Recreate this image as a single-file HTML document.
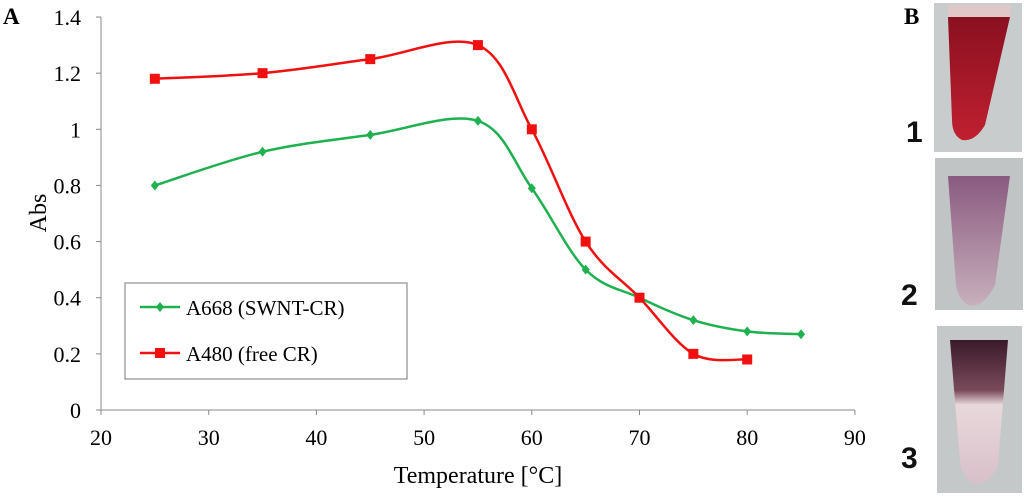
<!DOCTYPE html>
<html><head><meta charset="utf-8"><style>
body{margin:0;width:1024px;height:496px;background:#fff;overflow:hidden;font-family:"Liberation Serif",serif}
</style></head><body>
<svg width="1024" height="496">
<defs>
<linearGradient id="g1" x1="0" y1="0" x2="0" y2="1"><stop offset="0" stop-color="#8a1020"/><stop offset="1" stop-color="#c02030"/></linearGradient>
<linearGradient id="g2" x1="0" y1="0" x2="0" y2="1"><stop offset="0" stop-color="#8a5a80"/><stop offset="1" stop-color="#c8b0bc"/></linearGradient>
<linearGradient id="g3" x1="0" y1="0" x2="0" y2="1"><stop offset="0" stop-color="#3a1a2a"/><stop offset="0.35" stop-color="#7a4a5a"/><stop offset="0.45" stop-color="#e8d8dc"/><stop offset="1" stop-color="#d8c0c8"/></linearGradient>
</defs>
<text x="3" y="24" font-size="23" font-weight="bold">A</text>
<g id="chart"></g>
<text x="904" y="24" font-size="23" font-weight="bold">B</text>
<g>
<rect x="934" y="3" width="88" height="149" fill="#c8cccc"/>
<rect x="948" y="5" width="62" height="12" fill="#e0c8c8"/>
<path d="M948,17 L1010,17 L985,125 Q975,142 962,140 Q952,135 952,120 Z" fill="url(#g1)"/>
</g>
<g>
<rect x="935" y="158" width="88" height="152" fill="#c0c4c4"/>
<path d="M948,176 L1010,176 L995,285 Q985,306 970,306 Q958,300 956,285 Z" fill="url(#g2)"/>
</g>
<g>
<rect x="937" y="326" width="85" height="167" fill="#c4c8c8"/>
<path d="M950,340 L1008,340 L998,465 Q990,484 975,484 Q962,478 960,462 Z" fill="url(#g3)"/>
</g>
<g font-family="'Liberation Sans',sans-serif" font-weight="bold" font-size="30" fill="#111">
<text x="906" y="142">1</text>
<text x="901" y="305">2</text>
<text x="901" y="468">3</text>
</g>
</svg>
<script>
const xTicks=[20,30,40,50,60,70,80,90];
const yTicks=[0,0.2,0.4,0.6,0.8,1,1.2,1.4];
const greenX=[25,35,45,55,60,65,70,75,80,85];
const greenY=[0.8,0.92,0.98,1.03,0.79,0.5,0.4,0.32,0.28,0.27];
const redX=[25,35,45,55,60,65,70,75,80];
const redY=[1.18,1.2,1.25,1.3,1.0,0.6,0.4,0.2,0.18];
const NS="http://www.w3.org/2000/svg";
const g=document.getElementById('chart');
const X=v=>101+(v-20)*10.77, Y=v=>410-v*280.7;
function el(t,a,p){const e=document.createElementNS(NS,t);for(const k in a)e.setAttribute(k,a[k]);(p||g).appendChild(e);return e;}
const ax=el('line',{x1:101,y1:17,x2:101,y2:410,stroke:'#888','stroke-width':1});


const bx=el('line',{x1:101,y1:410,x2:855,y2:410,stroke:'#888','stroke-width':1});


yTicks.forEach(v=>{el('line',{x1:96,x2:101,y1:Y(v),y2:Y(v),stroke:'#888'});
const t=el('text',{x:81,y:Y(v)+8,'font-size':22,'text-anchor':'end'});t.textContent=String(v);

});
xTicks.forEach(v=>{el('line',{x1:X(v),x2:X(v),y1:410,y2:415,stroke:'#888'});
const t=el('text',{x:X(v),y:445,'font-size':22,'text-anchor':'middle'});t.textContent=String(v);

});
const xt=el('text',{x:478,y:483,'font-size':24,'text-anchor':'middle'});xt.textContent='Temperature [°C]';


const yt=el('text',{x:0,y:0,'font-size':24,'text-anchor':'middle',transform:'translate(46,213) rotate(-90)'});yt.textContent='Abs';


function smooth(xs,ys){const p=xs.map((x,i)=>[X(x),Y(ys[i])]);let d='M'+p[0];
for(let i=0;i<p.length-1;i++){const p0=p[i-1]||p[i],p1=p[i],p2=p[i+1],p3=p[i+2]||p2;
d+=` C${p1[0]+(p2[0]-p0[0])/6},${p1[1]+(p2[1]-p0[1])/6} ${p2[0]-(p3[0]-p1[0])/6},${p2[1]-(p3[1]-p1[1])/6} ${p2[0]},${p2[1]}`;}return d;}
const gl=el('path',{d:smooth(greenX,greenY),fill:'none',stroke:'#1fb050','stroke-width':2.5});


const rl=el('path',{d:smooth(redX,redY),fill:'none',stroke:'#f01010','stroke-width':2.5});


greenX.forEach((x,i)=>{const cx=X(x),cy=Y(greenY[i]);
const m=el('path',{d:`M${cx},${cy-5}L${cx+4},${cy}L${cx},${cy+5}L${cx-4},${cy}Z`,fill:'#1fb050'});

});
redX.forEach((x,i)=>{const m=el('rect',{x:X(x)-5,y:Y(redY[i])-5,width:10,height:10,fill:'#f01010'});

});
const lg=el('g',{});


el('rect',{x:125,y:283,width:282,height:96,fill:'#fff',stroke:'#777'},lg);
el('line',{x1:140,x2:180,y1:307,y2:307,stroke:'#1fb050','stroke-width':2.5},lg);
el('path',{d:'M160,302L164,307L160,312L156,307Z',fill:'#1fb050'},lg);
const l1=el('text',{x:186,y:315,'font-size':21},lg);l1.textContent='A668 (SWNT-CR)';


el('line',{x1:140,x2:180,y1:353,y2:353,stroke:'#f01010','stroke-width':2.5},lg);
el('rect',{x:155,y:348,width:10,height:10,fill:'#f01010'},lg);
const l2=el('text',{x:186,y:361,'font-size':21},lg);l2.textContent='A480 (free CR)';


</script>
</body></html>
